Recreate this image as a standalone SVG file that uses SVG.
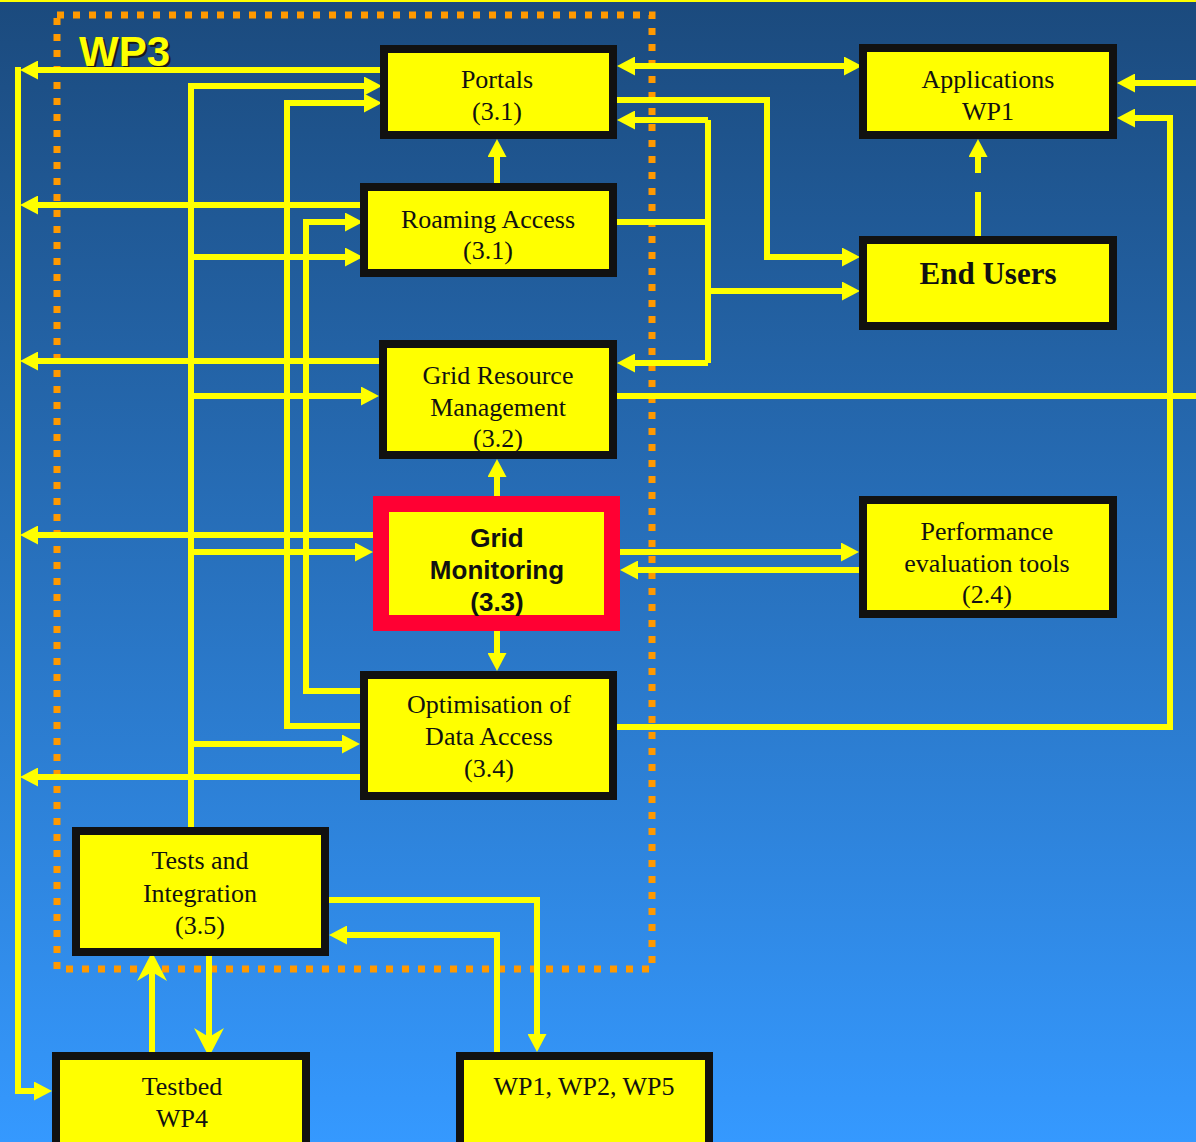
<svg xmlns="http://www.w3.org/2000/svg" width="1196" height="1142" viewBox="0 0 1196 1142">
  <defs>
    <linearGradient id="bg" x1="0" y1="0" x2="0" y2="1">
      <stop offset="0" stop-color="#1b4a7d"/>
      <stop offset="1" stop-color="#3599ff"/>
    </linearGradient>
    <marker id="arr" markerUnits="userSpaceOnUse" markerWidth="18" markerHeight="19" refX="10" refY="9.5" orient="auto-start-reverse" viewBox="0 0 18 19">
      <path d="M0,0 L18,9.5 L0,19 z" fill="#ffff00"/>
    </marker>
    <marker id="barb" markerUnits="userSpaceOnUse" markerWidth="29" markerHeight="30" refX="14" refY="15" orient="auto" viewBox="0 0 29 30">
      <path d="M0,0 L29,15 L0,30 L9,15 z" fill="#ffff00"/>
    </marker>
  </defs>
  <style>
    .node { fill: #ffff00; stroke: #111111; stroke-width: 8; }
    .hot { fill: #ffff00; stroke: #ff0033; stroke-width: 16; }
    .lbl { font-family: "Liberation Serif", "Times New Roman", serif; font-size: 26px; fill: #111111; text-anchor: middle; }
    .big { font-family: "Liberation Serif", "Times New Roman", serif; font-size: 31px; font-weight: bold; fill: #111111; text-anchor: middle; }
    .sans { font-family: "Liberation Sans", Arial, sans-serif; font-size: 26px; font-weight: bold; fill: #111111; text-anchor: middle; }
    .wp3 { font-family: "Liberation Sans", Arial, sans-serif; font-size: 42px; font-weight: bold; }
    .ln { fill: none; stroke: #ffff00; stroke-width: 6; }
    .a { marker-end: url(#arr); }
    .b { marker-end: url(#barb); }
  </style>

  <!-- background -->
  <rect x="0" y="0" width="1196" height="1142" fill="url(#bg)"/>
  <rect x="0" y="0" width="1196" height="2" fill="#ffff00"/>

  <!-- WP3 work-package frame -->
  <g id="wp3-frame">
    <rect x="57" y="15" width="595" height="954" fill="none" stroke="#ff9900" stroke-width="7" stroke-dasharray="7 9"/>
    <text x="81" y="68" class="wp3" fill="#1a1a1a">WP3</text>
    <text x="79" y="66" class="wp3" fill="#ffff00">WP3</text>
  </g>

  <!-- connectors -->
  <g id="connectors">
    <!-- left collector bus into the testbed -->
    <path class="ln a" d="M380,70 H28"/>
    <path class="ln a" d="M360,205 H28"/>
    <path class="ln a" d="M379,361 H28"/>
    <path class="ln a" d="M373,535 H28"/>
    <path class="ln a" d="M360,777 H28"/>
    <path class="ln a" d="M18,67 V1091 H44"/>

    <!-- tests and integration feed -->
    <path class="ln" d="M191,830 V83"/>
    <path class="ln a" d="M188,86 H374"/>
    <path class="ln a" d="M188,257 H355"/>
    <path class="ln a" d="M188,396 H371"/>
    <path class="ln a" d="M188,552 H365"/>
    <path class="ln a" d="M188,744 H352"/>

    <!-- data access back to portals / roaming -->
    <path class="ln a" d="M360,726 H287 V103 H374"/>
    <path class="ln a" d="M360,691 H306 V222 H355"/>

    <!-- vertical links in the WP3 column -->
    <path class="ln a" d="M497,183 V147"/>
    <path class="ln a" d="M497,496 V467"/>
    <path class="ln a" d="M497,631 V663"/>

    <!-- portals and applications -->
    <path class="ln a" d="M625,66 H854" marker-start="url(#arr)"/>
    <path class="ln a" d="M617,100 H767 V257 H852"/>

    <!-- roaming access distribution -->
    <path class="ln" d="M617,222 H708"/>
    <path class="ln" d="M708,120 V363"/>
    <path class="ln a" d="M708,120 H625"/>
    <path class="ln a" d="M708,363 H625"/>
    <path class="ln a" d="M708,291 H852"/>

    <!-- resource management outbound -->
    <path class="ln" d="M617,396 H1196"/>

    <!-- applications inputs -->
    <path class="ln a" d="M1196,83 H1125"/>
    <path class="ln a" d="M617,727 H1170 V118 H1125"/>
    <path class="ln a" d="M978,236 V147" stroke-dasharray="44 19"/>

    <!-- monitoring and performance tools -->
    <path class="ln a" d="M620,552 H851"/>
    <path class="ln a" d="M859,570 H628"/>

    <!-- tests and other work packages -->
    <path class="ln a" d="M329,900 H537 V1044"/>
    <path class="ln a" d="M497,1052 V935 H337"/>

    <!-- tests and testbed -->
    <path class="ln b" d="M152,1056 V967"/>
    <path class="ln b" d="M209,955 V1042"/>
  </g>

  <g id="portals">
    <rect class="node" x="384" y="49" width="229" height="86"/>
    <text class="lbl" x="497" y="88">Portals</text>
    <text class="lbl" x="497" y="120">(3.1)</text>
  </g>

  <g id="roaming-access">
    <rect class="node" x="364" y="187" width="249" height="86"/>
    <text class="lbl" x="488" y="228">Roaming Access</text>
    <text class="lbl" x="488" y="259">(3.1)</text>
  </g>

  <g id="applications">
    <rect class="node" x="863" y="48" width="250" height="87"/>
    <text class="lbl" x="988" y="88">Applications</text>
    <text class="lbl" x="988" y="120">WP1</text>
  </g>

  <g id="end-users">
    <rect class="node" x="863" y="240" width="250" height="86"/>
    <text class="big" x="988" y="284">End Users</text>
  </g>

  <g id="grid-resource-management">
    <rect class="node" x="383" y="344" width="230" height="111"/>
    <text class="lbl" x="498" y="384">Grid Resource</text>
    <text class="lbl" x="498" y="416">Management</text>
    <text class="lbl" x="498" y="447">(3.2)</text>
  </g>

  <g id="grid-monitoring">
    <rect class="hot" x="381" y="504" width="231" height="119"/>
    <text class="sans" x="497" y="547">Grid</text>
    <text class="sans" x="497" y="579">Monitoring</text>
    <text class="sans" x="497" y="611">(3.3)</text>
  </g>

  <g id="optimisation-data-access">
    <rect class="node" x="364" y="675" width="249" height="121"/>
    <text class="lbl" x="489" y="713">Optimisation of</text>
    <text class="lbl" x="489" y="745">Data Access</text>
    <text class="lbl" x="489" y="777">(3.4)</text>
  </g>

  <g id="performance-tools">
    <rect class="node" x="863" y="500" width="250" height="114"/>
    <text class="lbl" x="987" y="540">Performance</text>
    <text class="lbl" x="987" y="572">evaluation tools</text>
    <text class="lbl" x="987" y="603">(2.4)</text>
  </g>

  <g id="tests-integration">
    <rect class="node" x="76" y="831" width="249" height="121"/>
    <text class="lbl" x="200" y="869">Tests and</text>
    <text class="lbl" x="200" y="902">Integration</text>
    <text class="lbl" x="200" y="934">(3.5)</text>
  </g>

  <g id="testbed">
    <rect class="node" x="56" y="1056" width="250" height="100"/>
    <text class="lbl" x="182" y="1095">Testbed</text>
    <text class="lbl" x="182" y="1127">WP4</text>
  </g>

  <g id="other-wps">
    <rect class="node" x="460" y="1056" width="249" height="100"/>
    <text class="lbl" x="584" y="1095">WP1, WP2, WP5</text>
  </g>
</svg>
